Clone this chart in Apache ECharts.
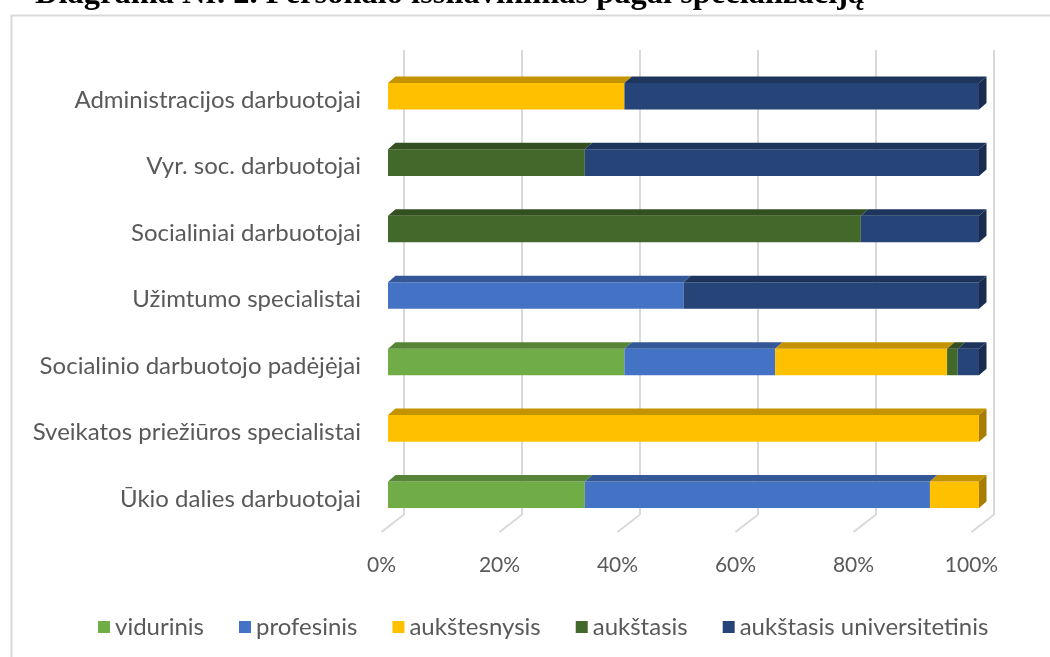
<!DOCTYPE html>
<html>
<head>
<meta charset="utf-8">
<script src="https://cdn.jsdelivr.net/npm/echarts@6/dist/echarts.min.js"></script>
<style>
html,body{margin:0;padding:0;background:#fff;}
#chart{width:1050px;height:657px;}
</style>
</head>
<body>
<div id="chart"></div>
<script>
// ---- data ----
const titleText = 'Diagrama Nr. 2. Personalo išsilavinimas pagal specializaciją';
const categories = [
  'Administracijos darbuotojai',
  'Vyr. soc. darbuotojai',
  'Socialiniai darbuotojai',
  'Užimtumo specialistai',
  'Socialinio darbuotojo padėjėjai',
  'Sveikatos priežiūros specialistai',
  'Ūkio dalies darbuotojai'
];
const seriesNames = ['vidurinis', 'profesinis', 'aukštesnysis', 'aukštasis', 'aukštasis universitetinis'];
const vidurinis      = [0,  0,    0,  0,  40,   0,   33.3];
const profesinis     = [0,  0,    0,  50, 25.5, 0,   58.4];
const aukstesnysis   = [40, 0,    0,  0,  29.1, 100, 8.3];
const aukstasis      = [0,  33.3, 80, 0,  1.8,  0,   0];
const universitetinis= [60, 66.7, 20, 50, 3.6,  0,   0];
const xTicks = [0, 20, 40, 60, 80, 100];

// ---- styles ----
const colors = ['#70AD47', '#4472C4', '#FFC000', '#43682B', '#264478'];
const labelColor = '#595959';
const gridColor = '#D9D9D9';
const font = 'Lato, "Open Sans", sans-serif';

function shade(hex, f) {
  const n = parseInt(hex.slice(1), 16);
  const r = Math.round(((n >> 16) & 255) * f);
  const g = Math.round(((n >> 8) & 255) * f);
  const b = Math.round((n & 255) * f);
  return 'rgb(' + r + ',' + g + ',' + b + ')';
}

const allValues = [vidurinis, profesinis, aukstesnysis, aukstasis, universitetinis];

// stacked start/end per series, and whether segment is the last visible one in its row
const stackedData = allValues.map((vals, si) => vals.map((v, ci) => {
  let start = 0;
  for (let k = 0; k < si; k++) start += allValues[k][ci];
  let later = 0;
  for (let k = si + 1; k < allValues.length; k++) later += allValues[k][ci];
  return [start, start + v, ci, (v > 0 && later === 0) ? 1 : 0];
}));

const DX = 7.5, DY = 6.5;

function makeBarSeries(si) {
  const base = colors[si];
  return {
    type: 'custom',
    name: seriesNames[si],
    xAxisIndex: 0,
    yAxisIndex: 0,
    itemStyle: { color: base },
    encode: { x: [0, 1], y: 2 },
    data: stackedData[si],
    z: 5 + si,
    renderItem: function (params, api) {
      const s = api.value(0), e = api.value(1), ci = api.value(2), last = api.value(3);
      if (e - s <= 0) return null;
      const p0 = api.coord([s, ci]);
      const p1 = api.coord([e, ci]);
      const band = api.size([0, 1])[1];
      const h = band * 0.4;
      const yc = p0[1] - band * 0.06;
      const yTop = yc - h / 2, yBot = yc + h / 2;
      const x0 = p0[0], x1 = p1[0];
      const children = [
        { type: 'rect', shape: { x: x0, y: yTop, width: x1 - x0, height: h }, style: { fill: base } },
        { type: 'polygon', shape: { points: [[x0, yTop], [x1, yTop], [x1 + DX, yTop - DY], [x0 + DX, yTop - DY]] }, style: { fill: shade(base, 0.77) } }
      ];
      if (last) {
        children.push({ type: 'polygon', shape: { points: [[x1, yTop], [x1 + DX, yTop - DY], [x1 + DX, yBot - DY], [x1, yBot]] }, style: { fill: shade(base, 0.65) } });
      }
      return { type: 'group', children: children };
    }
  };
}

const chart = echarts.init(document.getElementById('chart'), null, { renderer: 'canvas' });

const option = {
  backgroundColor: '#fff',
  animation: false,
  graphic: [
    { type: 'rect', left: 9, top: 13, shape: { width: 1100, height: 700 }, style: { fill: 'none', stroke: gridColor, lineWidth: 2 }, z: 0 },
    { type: 'text', x: 35, y: -5, style: { text: titleText, font: 'bold 32.5px "Liberation Serif", "Times New Roman", serif', fill: '#000', verticalAlign: 'middle' }, z: 10 }
  ],
  legend: {
    data: seriesNames,
    left: 93,
    top: 610,
    icon: 'rect',
    itemWidth: 12,
    itemHeight: 12,
    itemGap: 35,
    textStyle: { color: labelColor, fontSize: 24, fontFamily: font }
  },
  grid: [
    { left: 388, width: 591, top: 67, height: 465 },      // bars (front)
    { left: 403.5, width: 590, top: 50, height: 465 },    // back wall
    { left: 381.5, width: 590, top: 67, height: 465 }     // floor front edge (tick labels)
  ],
  xAxis: [
    { gridIndex: 0, type: 'value', min: 0, max: 100, interval: 20, axisLabel: { show: false }, splitLine: { show: false }, axisLine: { show: false }, axisTick: { show: false } },
    { gridIndex: 1, type: 'value', min: 0, max: 100, interval: 20, axisLabel: { show: false }, splitLine: { show: true, lineStyle: { color: gridColor, width: 2 } }, axisLine: { show: false }, axisTick: { show: false } },
    { gridIndex: 2, type: 'value', min: 0, max: 100, interval: 20, splitLine: { show: false }, axisLine: { show: false }, axisTick: { show: false },
      axisLabel: { color: labelColor, fontSize: 21, fontFamily: font, margin: 23, formatter: v => v + '%' } }
  ],
  yAxis: [
    { gridIndex: 0, type: 'category', data: categories, inverse: true, axisLine: { show: false }, axisTick: { show: false }, splitLine: { show: false },
      axisLabel: { color: labelColor, fontSize: 24, fontFamily: font, margin: 27 } },
    { gridIndex: 1, type: 'value', min: 0, max: 1, show: false },
    { gridIndex: 2, type: 'value', min: 0, max: 1, show: false }
  ],
  series: [
    {
      type: 'custom',
      name: 'floor',
      xAxisIndex: 2,
      yAxisIndex: 2,
      silent: true,
      z: 1,
      data: xTicks.map(v => [v, 0]),
      encode: { x: 0, y: 1 },
      renderItem: function (params, api) {
        const p = api.coord([api.value(0), 0]);
        return { type: 'line', shape: { x1: p[0], y1: p[1], x2: p[0] + 22, y2: p[1] - 17 }, style: { stroke: gridColor, lineWidth: 2 } };
      }
    }
  ].concat(seriesNames.map((n, i) => makeBarSeries(i)))
};

chart.setOption(option);
</script>
</body>
</html>
